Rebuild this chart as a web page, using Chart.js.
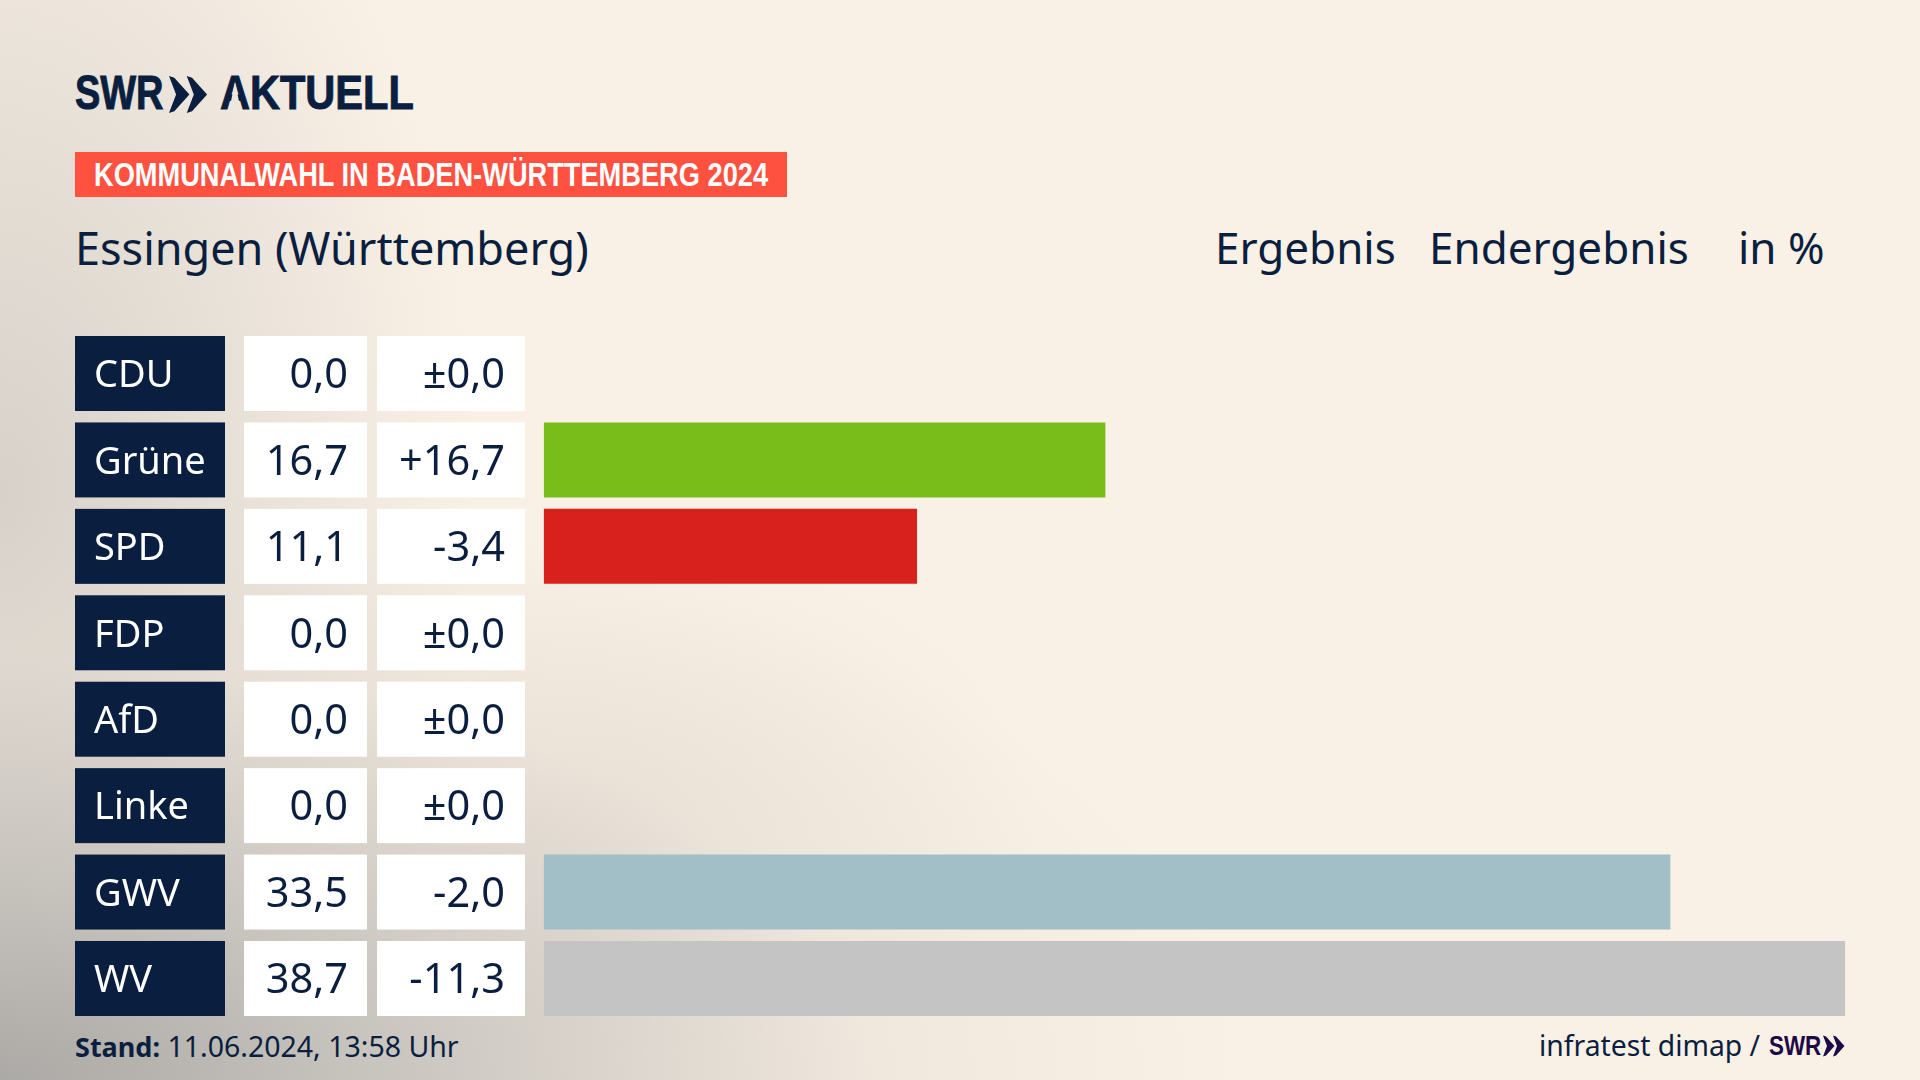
<!DOCTYPE html>
<html lang="de">
<head>
<meta charset="utf-8">
<title>Essingen (Württemberg)</title>
<script src="https://cdn.jsdelivr.net/npm/chart.js@4"></script>
<style>
  html, body { margin: 0; padding: 0; }
  body {
    width: 1920px; height: 1080px; overflow: hidden; position: relative;
    font-family: "Noto Sans", sans-serif; color: #0a1f3f;
    background:
      radial-gradient(ellipse 1250px 600px at 0px 1080px, rgba(168,166,163,0.95) 0%, rgba(190,187,182,0.75) 35%, rgba(225,217,208,0.4) 70%, rgba(250,241,230,0) 100%),
      radial-gradient(ellipse 480px 800px at 0px 500px, rgba(190,187,182,0.6) 0%, rgba(250,241,230,0) 100%),
      radial-gradient(ellipse 420px 260px at 620px 800px, rgba(225,215,205,0.4) 0%, rgba(250,241,230,0) 100%),
      #faf1e6;
  }
  canvas { position: absolute; left: 0; top: 0; }
  .t { position: absolute; white-space: nowrap; line-height: 1; transform-origin: 0 0; }
  .tag { position: absolute; left: 75px; top: 152px; width: 712px; height: 45px; background: #ff513f; }
  .logo { font-family: "Liberation Sans", sans-serif; font-weight: 700; }
  .heavy { -webkit-text-stroke: 1px currentColor; }
  .logo-a { display: inline-block; clip-path: polygon(0 0, 100% 0, 100% 100%, 74% 100%, 50% 26%, 26% 100%, 0 100%); }
  svg { position: absolute; }
</style>
</head>
<body>
<div class="t logo heavy" style="left:75px;top:69px;font-size:48px;transform:scaleX(0.79);">SWR</div>
<svg style="left:169px;top:75px" width="39" height="39" viewBox="0 0 44 42" fill="#0a1f3f">
  <polygon points="0,0 6,2 23,21 6,40 0,42 8,21"/>
  <polygon points="20,0 26,2 43,21 26,40 20,42 28,21"/>
</svg>
<div class="t logo heavy" style="left:220px;top:69px;font-size:48px;transform:scaleX(0.865);"><span class="logo-a">A</span>KTUELL</div>

<div class="tag"></div>
<div class="t logo" style="left:94px;top:158px;font-size:33px;color:#fff;transform:scaleX(0.825);">KOMMUNALWAHL IN BADEN-WÜRTTEMBERG 2024</div>

<div class="t" style="left:75px;top:225px;font-size:45px;">Essingen (Württemberg)</div>
<div class="t" style="left:1215px;top:225px;font-size:44px;">Ergebnis</div>
<div class="t" style="left:1429px;top:225px;font-size:44px;">Endergebnis</div>
<div class="t" style="left:1738px;top:225px;font-size:44px;">in %</div>

<div class="t" style="left:75px;top:1032px;font-size:28.5px;"><b style="font-size:27px;">Stand:</b> 11.06.2024, 13:58 Uhr</div>
<div class="t" style="left:1539px;top:1031px;font-size:28.3px;">infratest dimap /</div>
<div class="t logo" style="left:1769px;top:1032px;font-size:28px;color:#1e0a45;transform:scaleX(0.8);">SWR</div>
<svg style="left:1823px;top:1035px" width="22" height="22" viewBox="0 0 44 42" fill="#1e0a45">
  <polygon points="0,0 6,2 23,21 6,40 0,42 8,21"/>
  <polygon points="20,0 26,2 43,21 26,40 20,42 28,21"/>
</svg>

<canvas id="chart" width="1920" height="1080"></canvas>

<script>
const parties = ["CDU", "Grüne", "SPD", "FDP", "AfD", "Linke", "GWV", "WV"];
const values = [0.0, 16.7, 11.1, 0.0, 0.0, 0.0, 33.5, 38.7];
const deltas = [0.0, 16.7, -3.4, 0.0, 0.0, 0.0, -2.0, -11.3];
const barColors = ["#0a1f3f", "#78bd1a", "#d8201c", "#ffd500", "#0a9fe0", "#b5127c", "#a2bec7", "#c4c4c4"];

function fmt(v) {
  return v.toFixed(1).replace(".", ",");
}
function fmtDelta(v) {
  if (v === 0) return "±0,0";
  return (v > 0 ? "+" : "") + fmt(v);
}

// party box and the two number boxes left of the bars, one row per category
const tableCells = {
  id: "tableCells",
  beforeDatasetsDraw(chart) {
    const ctx = chart.ctx;
    const y = chart.scales.y;
    const h = 75;
    ctx.save();
    ctx.textBaseline = "middle";
    parties.forEach((name, i) => {
      const top = y.getPixelForValue(i) - h / 2;
      const mid = top + h / 2 + 3;
      ctx.fillStyle = "#0a1f3f";
      ctx.fillRect(75, top, 150, h);
      ctx.fillStyle = "#fff";
      ctx.fillRect(244, top, 123, h);
      ctx.fillRect(377, top, 148, h);

      ctx.font = '38px "Noto Sans"';
      ctx.textAlign = "left";
      ctx.fillText(name, 94, mid);
      ctx.font = '41.5px "Noto Sans"';
      ctx.fillStyle = "#0a1f3f";
      ctx.textAlign = "right";
      ctx.fillText(fmt(values[i]), 348, mid);
      ctx.fillText(fmtDelta(deltas[i]), 505, mid);
    });
    ctx.restore();
  },
};

new Chart(document.getElementById("chart"), {
  type: "bar",
  data: {
    labels: parties,
    datasets: [{
      data: values,
      backgroundColor: barColors,
      barPercentage: 75 / 86.43,
      categoryPercentage: 1,
    }],
  },
  options: {
    indexAxis: "y",
    responsive: false,
    devicePixelRatio: 1,
    animation: false,
    layout: { padding: { left: 543.7, right: 74.7, top: 330.3, bottom: 58.3 } },
    plugins: { legend: { display: false }, tooltip: { enabled: false } },
    scales: {
      x: { display: false, min: 0, max: 38.7 },
      y: { display: false },
    },
  },
  plugins: [tableCells],
});
</script>
</body>
</html>
